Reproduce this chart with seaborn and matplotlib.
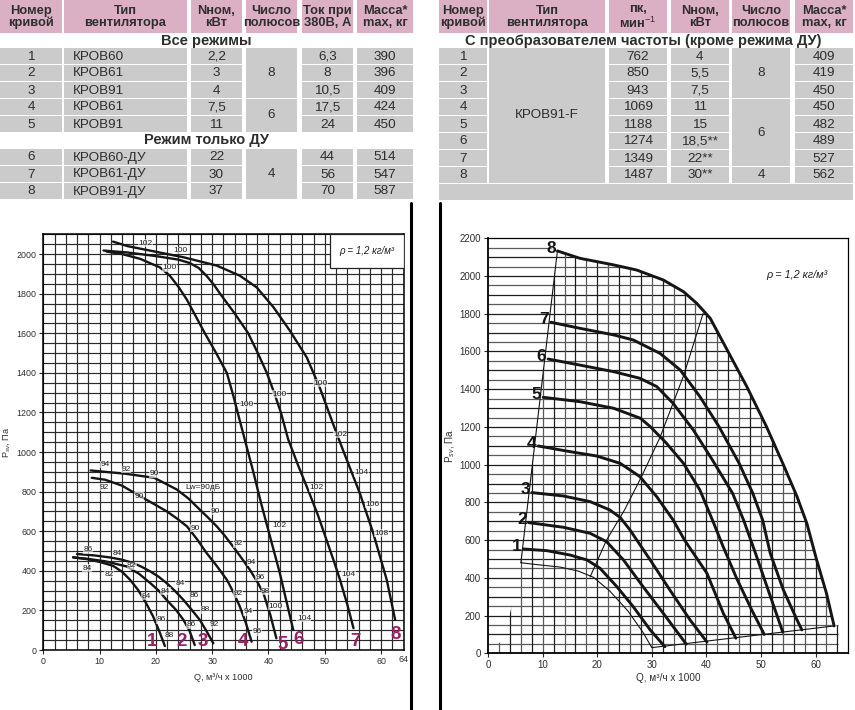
import numpy as np
import pandas as pd
import matplotlib
matplotlib.use("Agg")
import matplotlib.pyplot as plt
import seaborn as sns
from matplotlib.patches import Rectangle, Polygon
from matplotlib.lines import Line2D
from matplotlib import font_manager as fm

# ------------------------------------------------------------------ data
t1_header = ["Номер\nкривой", "Тип\nвентилятора", "Nном,\nкВт", "Число\nполюсов", "Ток при\n380В, А", "Масса*\nmax, кг"]
t1_title_a = "Все режимы"
t1_title_b = "Режим только ДУ"
t1_num = ["1", "2", "3", "4", "5", "6", "7", "8"]
t1_type = ["КРОВ60", "КРОВ61", "КРОВ91", "КРОВ61", "КРОВ91", "КРОВ60-ДУ", "КРОВ61-ДУ", "КРОВ91-ДУ"]
t1_power = ["2,2", "3", "4", "7,5", "11", "22", "30", "37"]
t1_poles = [("8", 0, 3), ("6", 3, 5), ("4", 5, 8)]
t1_current = ["6,3", "8", "10,5", "17,5", "24", "44", "56", "70"]
t1_mass = ["390", "396", "409", "424", "450", "514", "547", "587"]

t2_header = ["Номер\nкривой", "Тип\nвентилятора", "пк,\nмин$^{-1}$", "Nном,\nкВт", "Число\nполюсов", "Масса*\nmax, кг"]
t2_title = "С преобразователем частоты (кроме режима ДУ)"
t2_num = ["1", "2", "3", "4", "5", "6", "7", "8"]
t2_type = "КРОВ91-F"
t2_rpm = ["762", "850", "943", "1069", "1188", "1274", "1349", "1487"]
t2_power = ["4", "5,5", "7,5", "11", "15", "18,5**", "22**", "30**"]
t2_poles = [("8", 0, 3), ("6", 3, 7), ("4", 7, 8)]
t2_mass = ["409", "419", "450", "450", "482", "489", "527", "562"]

# left chart curves (Q x1000 m3/h, P Pa)
l1_q = [5.3, 8, 10, 12.4, 14, 15.4, 16.8, 18.2, 19.5, 20.6, 21.6]
l1_p = [468, 458, 445, 425, 395, 355, 305, 240, 170, 95, 20]
l2_q = [5.3, 8, 11, 14.8, 17, 19, 20.5, 21.9, 23.5, 24.9, 26, 26.9]
l2_p = [468, 460, 448, 422, 385, 338, 300, 253, 205, 152, 95, 25]
l3_q = [6, 9, 12, 14, 16, 17.5, 19, 20.5, 21.9, 23.4, 24.9, 26.3, 27.8, 29, 30.2]
l3_p = [485, 478, 467, 456, 439, 420, 397, 370, 338, 298, 253, 205, 152, 95, 34]
l4_q = [8.6, 11, 14, 17.2, 19.5, 21.9, 23.7, 25.5, 27.3, 29, 30.8, 32.6, 33.8, 34.9, 36, 37]
l4_p = [870, 860, 830, 777, 740, 701, 665, 625, 560, 490, 425, 355, 290, 220, 135, 42]
l5_q = [8.4, 11, 14.7, 19.7, 23.7, 25.8, 27.8, 29.3, 30.8, 32.3, 33.7, 35.2, 36.7, 38, 39.1, 40.3, 41.4]
l5_p = [907, 900, 890, 870, 811, 765, 709, 668, 625, 575, 523, 465, 405, 345, 287, 180, 59]
l6_q = [11.2, 14, 17.2, 20.7, 22.5, 24, 25.5, 27, 28.7, 30.7, 32.6, 33.7, 34.8, 36, 37.3, 38.7, 40.3, 42, 43.2, 44.4]
l6_p = [2013, 2000, 1976, 1933, 1890, 1835, 1770, 1690, 1600, 1500, 1400, 1290, 1170, 1040, 900, 740, 570, 390, 245, 101]
l7_q = [10.7, 15, 20, 24, 26, 27.6, 29, 30.3, 31.4, 34, 36.4, 38.1, 39.7, 41, 42.2, 43.5, 45.3, 47, 48.8, 50.3, 51.6, 52.7, 54, 55.1]
l7_p = [2018, 2008, 1990, 1972, 1955, 1930, 1890, 1845, 1800, 1700, 1600, 1500, 1400, 1300, 1200, 1064, 930, 811, 680, 557, 450, 355, 230, 110]
l8_q = [12.4, 15, 18.9, 24.9, 30.8, 34.9, 37.9, 40.9, 43.8, 46.8, 49.1, 51.5, 53.3, 56.2, 58.6, 61, 62.5]
l8_p = [2063, 2040, 2018, 1984, 1942, 1891, 1832, 1731, 1613, 1478, 1326, 1140, 1005, 794, 591, 355, 152]
left_q = [l1_q, l2_q, l3_q, l4_q, l5_q, l6_q, l7_q, l8_q]
left_p = [l1_p, l2_p, l3_p, l4_p, l5_p, l6_p, l7_p, l8_p]
left_curve_names = ["1", "2", "3", "4", "5", "6", "7", "8"]
left_name_q = [19.4, 24.6, 28.4, 35.4, 42.5, 45.3, 55.5, 62.5]
left_name_p = [42, 42, 42, 42, 30, 55, 42, 80]

# sound power labels on the left chart
lw_q = [11, 14.7, 19.7, 10.8, 17, 30.5, 27, 34.6, 37, 38.5, 39.5, 41.3, 46.3, 34.6, 36.4, 38,
        41.9, 48.5, 56.5, 58.5, 60.1, 54.2, 8, 7.8, 13.1, 15.7, 11.7, 24.3, 21.7, 26.9, 18.2,
        28.7, 20.9, 26.2, 30.4, 22.4, 18.1, 24.3, 22.4, 49.3, 42, 36.1, 52.7]
lw_p = [937, 912, 890, 822, 777, 701, 616, 537, 442, 366, 296, 220, 160, 284, 194, 93,
        628, 819, 895, 735, 591, 383, 507, 414, 490, 426, 383, 334, 296, 274, 270,
        203, 152, 127, 127, 71, 2055, 2018, 1930, 1348, 1292, 1238, 1089]
lw_txt = ["94", "92", "90", "92", "90", "90", "90", "92", "94", "96", "98", "100", "104", "92", "94", "96",
          "102", "102", "104", "106", "108", "104", "86", "84", "84", "82", "82", "84", "84", "86", "84",
          "88", "86", "86", "92", "88", "102", "100", "100", "100", "100", "100", "102"]
lw_note = "Lw=90дБ"
lw_note_q, lw_note_p = 25.3, 822

# right chart curves
r1_q = [6.45, 10.8, 15, 18.1, 20.5, 23.6, 26.6, 29.7, 32.4]
r1_p = [553, 544, 521, 495, 451, 353, 247, 124, 35]
r2_q = [7.4, 13.8, 18.7, 21.7, 24.8, 28.4, 32.1, 34.6, 36.3]
r2_p = [693, 668, 636, 592, 495, 353, 212, 115, 49]
r3_q = [8, 13.8, 18.7, 22.3, 24.2, 26, 29.7, 33.3, 37, 40.1]
r3_p = [852, 834, 804, 760, 720, 654, 495, 336, 177, 60]
r4_q = [9.2, 15, 19.9, 24.2, 27.8, 30.9, 33.9, 36, 40.1, 43.1, 45.4]
r4_p = [1099, 1069, 1046, 1007, 937, 830, 707, 600, 424, 212, 80]
r5_q = [10.1, 16.8, 23, 27.9, 29.7, 32.7, 35.8, 38.8, 41.1, 43, 45.5, 48.3, 50.6]
r5_p = [1357, 1334, 1299, 1246, 1202, 1113, 1007, 866, 707, 570, 400, 230, 100]
r6_q = [11, 16.8, 23, 27.8, 30.9, 33.9, 37.6, 41.1, 44.8, 46.8, 49, 51.5, 54]
r6_p = [1560, 1528, 1493, 1458, 1414, 1325, 1184, 1025, 848, 707, 530, 320, 112]
r7_q = [11.5, 16.8, 23, 26.6, 31.5, 35.2, 38.8, 42.3, 46, 48.5, 50.3, 51.7, 54.1, 56.6, 57.5]
r7_p = [1755, 1723, 1688, 1661, 1590, 1502, 1361, 1202, 1007, 848, 707, 530, 336, 177, 124]
r8_q = [12.7, 16.8, 23, 27.2, 32.1, 35.8, 38.2, 40.7, 43.4, 45.6, 47.4, 51, 54.1, 56.6, 58.4, 60.2, 62, 63.4]
r8_p = [2133, 2094, 2059, 2032, 1979, 1917, 1856, 1776, 1630, 1511, 1414, 1202, 1000, 831, 689, 495, 318, 145]
right_q = [r1_q, r2_q, r3_q, r4_q, r5_q, r6_q, r7_q, r8_q]
right_p = [r1_p, r2_p, r3_p, r4_p, r5_p, r6_p, r7_p, r8_p]
right_curve_names = ["1", "2", "3", "4", "5", "6", "7", "8"]
# thin boundary lines of the working zone
low_q = [6, 9, 13.2, 16.5, 19.3, 22.3, 25.6, 28.4, 30]
low_p = [480, 470, 457, 436, 403, 330, 225, 110, 30]
diag_q = [18.7, 21.7, 25, 28, 31.5, 35.8, 39.4]
diag_p = [406, 600, 760, 930, 1145, 1470, 1802]
left_edge_q = [6, 12.7]
left_edge_p = [480, 2133]
bottom_edge_q = [30, 63.4]
bottom_edge_p = [30, 145]
# foot of the grid left of the zone
foot_q = [1.5, 1.5, 2.5, 4, 6]
foot_p = [-50, 57, 57, 209, 480]

# ------------------------------------------------------------------ style
sns.set_theme(style="white")
names = {f.name for f in fm.fontManager.ttflist}
HAS_NARROW = "Liberation Sans Narrow" in names
NARROW = "Liberation Sans Narrow" if HAS_NARROW else "Liberation Sans"
NS = 1.0 if HAS_NARROW else 0.84
plt.rcParams["font.family"] = ["Liberation Sans", "DejaVu Sans"]
plt.rcParams["mathtext.fontset"] = "custom"
plt.rcParams["mathtext.rm"] = "Liberation Sans"
plt.rcParams["mathtext.it"] = "Liberation Sans:italic"
plt.rcParams["mathtext.bf"] = "Liberation Sans:bold"

W, H = 855, 710
fig = plt.figure(figsize=(W / 100, H / 100), dpi=100)

PINK = "#dcb0c4"
GRAY = "#cbcbcb"
TXT = "#2e2e2e"


def rect(x0, x1, y0, y1, color):
    fig.add_artist(Rectangle((x0 / W, 1 - y1 / H), (x1 - x0) / W, (y1 - y0) / H,
                             transform=fig.transFigure, facecolor=color, edgecolor="none"))


def ftext(x, y, s, ha="center", **kw):
    fig.text(x / W, 1 - y / H, s, ha=ha, va="center", color=TXT, **kw)


HDR = dict(family=[NARROW, "DejaVu Sans"], fontweight="bold", fontsize=11 * NS, linespacing=1.0)

# ---------------- left table
c1 = [(0, 62), (64, 187), (191, 242), (246, 297), (302, 353), (357, 413)]
rows1 = [48, 65, 82, 99, 116, 149, 166, 183]
RH = 16
for (x0, x1), h in zip(c1, t1_header):
    rect(x0, x1, 0, 33, PINK)
    ftext((x0 + x1) / 2, 17, h, **HDR)
ftext(206, 41, t1_title_a, fontweight="bold", fontsize=10.5)
ftext(206, 140, t1_title_b, fontweight="bold", fontsize=10.5)
for i, y in enumerate(rows1):
    yc = y + RH / 2 + 0.5
    for j, vals in [(0, t1_num), (1, t1_type), (2, t1_power), (4, t1_current), (5, t1_mass)]:
        x0, x1 = c1[j]
        rect(x0, x1, y, y + RH, GRAY)
        if j == 1:
            ftext(x0 + 9, yc, vals[i], ha="left", fontsize=9.7)
        else:
            ftext((x0 + x1) / 2, yc, vals[i], fontsize=9.7)
for val, a, b in t1_poles:
    x0, x1 = c1[3]
    y0, y1 = rows1[a], rows1[b - 1] + RH
    rect(x0, x1, y0, y1, GRAY)
    ftext((x0 + x1) / 2, (y0 + y1) / 2, val, fontsize=9.7)

# ---------------- right table
c2 = [(439, 487), (489, 605), (609, 667), (671, 729), (732, 790), (795, 853)]
rows2 = [48, 65, 82, 99, 116, 133, 150, 167]
for (x0, x1), h in zip(c2, t2_header):
    rect(x0, x1, 0, 33, PINK)
    ftext((x0 + x1) / 2, 17, h, **HDR)
ftext(643, 41, t2_title, fontweight="bold", fontsize=10.5)
for i, y in enumerate(rows2):
    yc = y + RH / 2 + 0.5
    for j, vals in [(0, t2_num), (2, t2_rpm), (3, t2_power), (5, t2_mass)]:
        x0, x1 = c2[j]
        rect(x0, x1, y, y + RH, GRAY)
        ftext((x0 + x1) / 2, yc, vals[i], fontsize=9.7)
x0, x1 = c2[1]
rect(x0, x1, rows2[0], rows2[-1] + RH, GRAY)
ftext((x0 + x1) / 2, (rows2[0] + rows2[-1] + RH) / 2, t2_type, fontsize=9.7)
for val, a, b in t2_poles:
    x0, x1 = c2[4]
    y0, y1 = rows2[a], rows2[b - 1] + RH
    rect(x0, x1, y0, y1, GRAY)
    ftext((x0 + x1) / 2, (y0 + y1) / 2, val, fontsize=9.7)
rect(439, 853, 184, 200, GRAY)

# panel separators
fig.add_artist(Line2D([411 / W, 411 / W], [1 - 203 / H, 0], color="black", lw=2.2))
fig.add_artist(Line2D([440 / W, 440 / W], [1 - 203 / H, 0], color="black", lw=2.2))

# ---------------- left chart
ax1 = fig.add_axes([43.3 / W, 1 - 650 / H, (403.6 - 43.3) / W, (650 - 234.3) / H])
df_left = pd.concat([pd.DataFrame({"Q": q, "P": p, "curve": n})
                     for q, p, n in zip(left_q, left_p, left_curve_names)], ignore_index=True)
sns.lineplot(data=df_left, x="Q", y="P", units="curve", estimator=None, sort=False,
             color="#151515", linewidth=1.7, ax=ax1, legend=False, zorder=3)
ax1.set_xlim(0, 64)
ax1.set_ylim(0, 2100)
ax1.set_xticks(np.arange(0, 61, 10))
ax1.set_xticks(np.arange(0, 65, 2), minor=True)
ax1.set_yticks(np.arange(0, 2001, 200))
ax1.set_yticks(np.arange(0, 2101, 50), minor=True)
ax1.grid(which="both", color="#2a2a2a", lw=0.85)
ax1.set_axisbelow(True)
ax1.tick_params(which="major", direction="out", length=3, width=0.8, pad=2,
                labelsize=7.6 * NS, labelcolor=TXT, left=True, bottom=True)
ax1.tick_params(which="minor", length=0)
for lab in ax1.get_xticklabels() + ax1.get_yticklabels():
    lab.set_family([NARROW, "DejaVu Sans"])
for sp in ax1.spines.values():
    sp.set_color("black")
    sp.set_linewidth(1.1)
ax1.set_xlabel("Q, м³/ч x 1000", fontsize=7.8 * NS, family=[NARROW, "DejaVu Sans"], labelpad=5, color=TXT)
ax1.set_ylabel("P$_{sv}$, Па", fontsize=7.8 * NS, family=[NARROW, "DejaVu Sans"], labelpad=3, color=TXT)
ax1.text(64, -0.012, "64", transform=ax1.get_xaxis_transform(), ha="center", va="top",
         fontsize=7.6 * NS, family=[NARROW, "DejaVu Sans"], color=TXT)
for q, p, s in zip(lw_q, lw_p, lw_txt):
    ax1.text(q, p, s, ha="center", va="center", fontsize=7.2 * NS, family=[NARROW, "DejaVu Sans"],
             color="#202020", zorder=4,
             bbox=dict(boxstyle="square,pad=0.05", facecolor="white", edgecolor="none", alpha=0.6))
ax1.text(lw_note_q, lw_note_p, lw_note, ha="left", va="center", fontsize=7.2 * NS,
         family=[NARROW, "DejaVu Sans"], color="#202020", zorder=4,
         bbox=dict(boxstyle="square,pad=0.05", facecolor="white", edgecolor="none", alpha=0.6))
for q, p, s in zip(left_name_q, left_name_p, left_curve_names):
    ax1.text(q, p, s, ha="center", va="center", fontsize=13.5, fontweight="bold",
             color="#9a1f63", zorder=5, family=[NARROW, "DejaVu Sans"])
ax1.add_patch(Rectangle((50.9, 1930), 13.1, 172, facecolor="white", edgecolor="#222", lw=0.9, zorder=4))
ax1.text(57.45, 2015, "ρ = 1,2 кг/м³", ha="center", va="center", fontsize=7, style="italic",
         color="#202020", zorder=5)

# ---------------- right chart
ax2 = fig.add_axes([488.1 / W, 1 - 653.3 / H, (848.3 - 488.1) / W, (653.3 - 238.3) / H])
ax2.set_xlim(0, 66)
ax2.set_ylim(0, 2200)

hpoly = [(-1, -50), (-1, 2160), (10.5, 2160)] + list(zip(r8_q, r8_p)) + [(64.2, 150), (64.2, -50)]
vpoly = list(zip(foot_q, foot_p)) + list(zip(left_edge_q, left_edge_p))[1:] + list(zip(r8_q, r8_p))[1:] \
    + [(64.4, 150), (64.4, -50)]
hclip = Polygon(hpoly, closed=True, transform=ax2.transData, facecolor="none", edgecolor="none")
vclip = Polygon(vpoly, closed=True, transform=ax2.transData, facecolor="none", edgecolor="none")
ax2.add_patch(hclip)
ax2.add_patch(vclip)
hy = np.arange(50, 2200, 50)
hl = ax2.hlines(hy, 0, 66, colors=["#1e1e1e" if v % 100 == 0 else "#5a5a5a" for v in hy], lw=0.9, zorder=1)
hl.set_clip_path(hclip)
vx = np.arange(2, 65, 2)
vl = ax2.vlines(vx, 0, 2200, colors=["#1e1e1e" if v % 4 == 0 else "#5a5a5a" for v in vx], lw=0.9, zorder=1)
vl.set_clip_path(vclip)

df_right = pd.concat([pd.DataFrame({"Q": q, "P": p, "curve": n})
                      for q, p, n in zip(right_q, right_p, right_curve_names)], ignore_index=True)
sns.lineplot(data=df_right, x="Q", y="P", units="curve", estimator=None, sort=False,
             color="#151515", linewidth=2.1, ax=ax2, legend=False, zorder=3)
thin = pd.concat([pd.DataFrame({"Q": low_q, "P": low_p, "line": "low"}),
                  pd.DataFrame({"Q": diag_q, "P": diag_p, "line": "diag"}),
                  pd.DataFrame({"Q": left_edge_q, "P": left_edge_p, "line": "left"}),
                  pd.DataFrame({"Q": bottom_edge_q, "P": bottom_edge_p, "line": "bottom"})],
                 ignore_index=True)
sns.lineplot(data=thin, x="Q", y="P", units="line", estimator=None, sort=False,
             color="#151515", linewidth=0.8, ax=ax2, legend=False, zorder=3)
for q, p, s in zip(right_q, right_p, right_curve_names):
    ax2.text(q[0] - 0.3, p[0] + 15, s, ha="right", va="center", fontsize=12.5, fontweight="bold",
             color="#151515", family=[NARROW, "DejaVu Sans"], zorder=5)
ax2.text(51, 2006, "ρ = 1,2 кг/м³", ha="left", va="center", fontsize=7.8, style="italic", color="#202020")
ax2.set_xticks(np.arange(0, 61, 10))
ax2.set_yticks(np.arange(0, 2201, 200))
ax2.tick_params(direction="out", length=3, width=0.8, pad=2, labelsize=8.4 * NS,
                labelcolor=TXT, left=True, bottom=True)
for lab in ax2.get_xticklabels() + ax2.get_yticklabels():
    lab.set_family([NARROW, "DejaVu Sans"])
for sp in ax2.spines.values():
    sp.set_color("black")
    sp.set_linewidth(0.9)
ax2.spines["left"].set_linewidth(1.3)
ax2.spines["bottom"].set_linewidth(1.3)
ax2.set_xlabel("Q, м³/ч x 1000", fontsize=8.6 * NS, family=[NARROW, "DejaVu Sans"], labelpad=2, color=TXT)
ax2.set_ylabel("P$_{sv}$, Па", fontsize=8.6 * NS, family=[NARROW, "DejaVu Sans"], labelpad=2, color=TXT)

fig.savefig("out.png", dpi=100)
